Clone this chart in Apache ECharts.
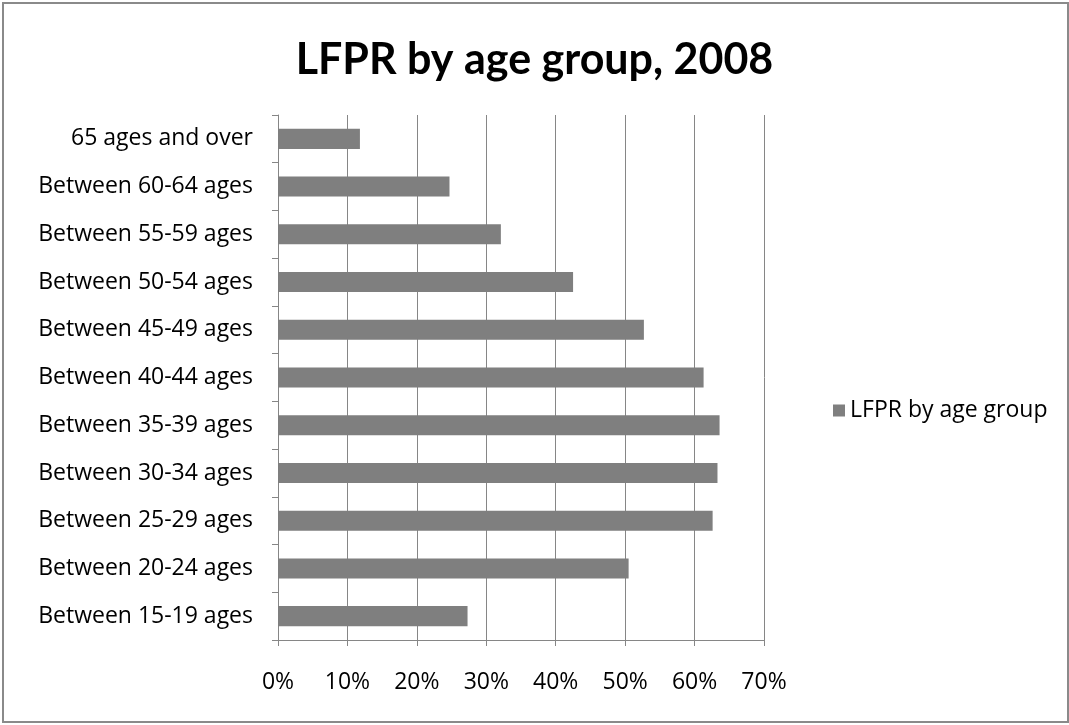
<!DOCTYPE html>
<html>
<head>
<meta charset="utf-8">
<script src="https://cdn.jsdelivr.net/npm/echarts@6/dist/echarts.min.js"></script>
<style>
  html, body { margin: 0; padding: 0; background: #fff; }
  #frame { position: absolute; left: 2px; top: 2px; width: 1063px; height: 717px; border: 2px solid #8a8a8a; }
  #chart { position: absolute; left: 0; top: 0; width: 1069px; height: 725px; }
</style>
</head>
<body>
<div id="frame"></div>
<div id="chart"></div>
<script>
// Age groups, listed bottom to top
const categories = [
  'Between 15-19 ages', 'Between 20-24 ages', 'Between 25-29 ages',
  'Between 30-34 ages', 'Between 35-39 ages', 'Between 40-44 ages',
  'Between 45-49 ages', 'Between 50-54 ages', 'Between 55-59 ages',
  'Between 60-64 ages', '65 ages and over'
];
// Labour force participation rate, %
const lfpr = [27.3, 50.5, 62.6, 63.3, 63.6, 61.3, 52.7, 42.5, 32.1, 24.7, 11.8];
const seriesName = 'LFPR by age group';
const titleText = 'LFPR by age group, 2008';

const font = '"Open Sans", Lato, sans-serif';
const titleFont = 'Lato, "Open Sans", sans-serif';
const chart = echarts.init(document.getElementById('chart'), null, { renderer: 'canvas' });
chart.setOption({
  animation: false,
  backgroundColor: 'transparent',
  title: {
    text: titleText,
    left: 'center',
    top: 34,
    textStyle: { fontFamily: titleFont, fontWeight: 'bold', fontSize: 43, color: '#000' }
  },
  legend: {
    data: [seriesName],
    left: 828,
    top: 394,
    orient: 'vertical',
    icon: 'rect',
    itemWidth: 12,
    itemHeight: 12,
    itemGap: 8,
    textStyle: { fontFamily: font, fontSize: 23, color: '#000' }
  },
  grid: { left: 278, right: 305, top: 115, bottom: 85, containLabel: false },
  xAxis: {
    type: 'value',
    min: 0,
    max: 70,
    interval: 10,
    axisLine: { show: true, lineStyle: { color: '#868686', width: 1 } },
    axisTick: { show: true, length: 6, lineStyle: { color: '#868686' } },
    splitLine: { show: true, lineStyle: { color: '#868686', width: 1, type: 'solid' } },
    axisLabel: {
      formatter: '{value}%',
      margin: 31,
      fontFamily: font,
      fontSize: 23,
      color: '#000'
    }
  },
  yAxis: {
    type: 'category',
    data: categories,
    axisLine: { show: true, lineStyle: { color: '#868686', width: 1 } },
    axisTick: { show: true, length: 6, inside: false, alignWithLabel: false, lineStyle: { color: '#868686' } },
    splitLine: { show: false },
    axisLabel: {
      margin: 25,
      fontFamily: font,
      fontSize: 23,
      color: '#000',
      interval: 0
    }
  },
  series: [{
    name: seriesName,
    type: 'bar',
    data: lfpr,
    barCategoryGap: '58%',
    itemStyle: { color: '#7f7f7f' }
  }]
});
</script>
</body>
</html>
